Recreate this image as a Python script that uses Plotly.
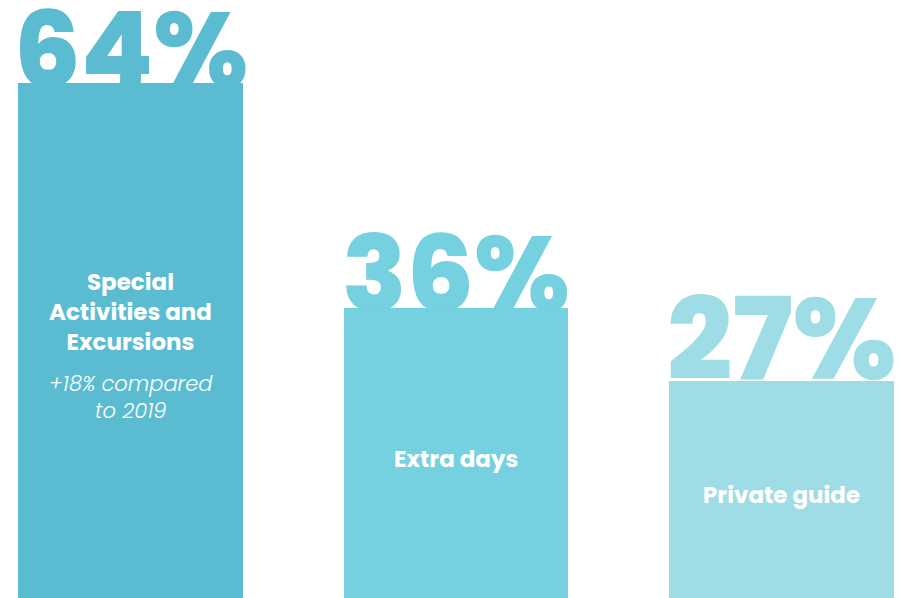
import plotly.graph_objects as go

categories = ["Special Activities and Excursions", "Extra days", "Private guide"]
values = [64, 36, 27]
value_labels = ["64%", "36%", "27%"]
bar_labels = ["Special<br>Activities and<br>Excursions", "Extra days", "Private guide"]
notes = ["+18% compared<br>to 2019", "", ""]
colors = ["#5BBCD1", "#75D0DF", "#9EDCE6"]

xpos = list(range(len(categories)))

# styling: big number sized to fill the bar width
big_sizes = [105, 106, 115]
big_shift = [-43, -42, -40]

fig = go.Figure()
fig.add_trace(go.Bar(
    x=xpos, y=values, width=0.69,
    marker=dict(color=colors, line=dict(width=0)),
    hoverinfo="skip", showlegend=False,
))

FAM = "Poppins, Inter, Roboto, sans-serif"
LBL = dict(family=FAM, size=23, color="white", weight=700)
NOTE = dict(family=FAM, size=21, color="white", weight=300, style="italic")

for i, v in enumerate(values):
    fig.add_annotation(x=xpos[i], y=v, text=value_labels[i], showarrow=False,
                       yanchor="bottom", yshift=big_shift[i],
                       font=dict(family=FAM, size=big_sizes[i], weight=800, color=colors[i]))
    if notes[i]:
        fig.add_annotation(x=xpos[i], y=v / 2, text=bar_labels[i], showarrow=False,
                           yanchor="middle", yshift=28, font=LBL)
        fig.add_annotation(x=xpos[i], y=v / 2, text=notes[i], showarrow=False,
                           yanchor="middle", yshift=-57, font=NOTE)
    else:
        fig.add_annotation(x=xpos[i], y=v / 2, text=bar_labels[i], showarrow=False,
                           yanchor="middle", yshift=-6, font=LBL)

fig.update_layout(
    width=901, height=598,
    margin=dict(l=0, r=0, t=0, b=0),
    paper_bgcolor="white", plot_bgcolor="white",
    xaxis=dict(range=[-0.401, 2.367], visible=False, fixedrange=True),
    yaxis=dict(range=[0, 74.3], visible=False, fixedrange=True),
    bargap=0,
)
fig.write_html("out.html")
